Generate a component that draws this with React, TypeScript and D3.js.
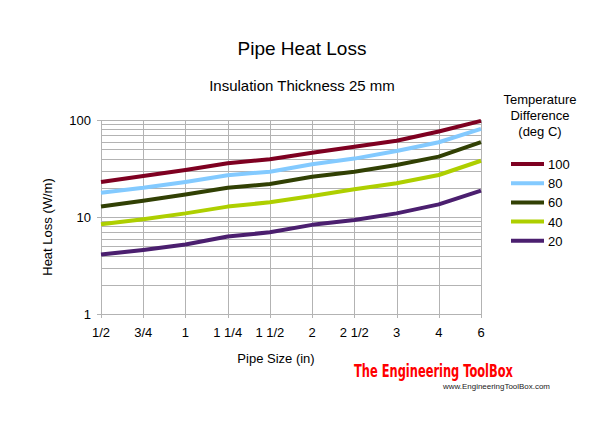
import React, { useEffect, useRef } from 'react';
import * as d3 from 'd3';

const sizes = ['1/2', '3/4', '1', '1 1/4', '1 1/2', '2', '2 1/2', '3', '4', '6'];
const temps = ['100', '80', '60', '40', '20'];
const loss100 = [23, 26.5, 30.5, 35.8, 39.4, 46, 53, 61, 76, 98];
const loss80 = [17.8, 20, 23, 27, 29.3, 35, 40, 48, 59, 81];
const loss60 = [12.8, 14.7, 17.1, 20, 21.9, 26, 29.3, 34.4, 41.9, 59];
const loss40 = [8.4, 9.5, 10.9, 12.8, 14.2, 16.5, 19.3, 22.3, 27.1, 38];
const loss20 = [4.1, 4.57, 5.2, 6.3, 6.95, 8.3, 9.3, 10.9, 13.5, 18.7];
const yTicks = [1, 10, 100];
const colors = ['#7e0021', '#83caff', '#314004', '#aecf00', '#4b1f6f'];

const App = () => {
  const svgRef = useRef<SVGSVGElement>(null);

  useEffect(() => {
    const svg = d3.select(svgRef.current);
    svg.selectAll('*').remove();
    const font = '"Liberation Sans", Arial, sans-serif';

    const left = 101, right = 481, top = 120, bottom = 314;
    const x = d3.scalePoint<string>().domain(sizes).range([left, right]);
    const y = d3.scaleLog().domain([1, 100]).range([bottom, top]);

    const series = [loss100, loss80, loss60, loss40, loss20];

    // grid
    const minor: number[] = [];
    for (const d of [1, 10]) for (let k = 2; k <= 9; k++) minor.push(d * k);
    const grid = svg.append('g').attr('stroke', '#b3b3b3').attr('stroke-width', 1);
    grid.selectAll('line.h')
      .data([...minor, ...yTicks])
      .enter().append('line')
      .attr('x1', left).attr('x2', right)
      .attr('y1', d => Math.round(y(d)) + 0.5).attr('y2', d => Math.round(y(d)) + 0.5);
    grid.selectAll('line.v')
      .data(sizes)
      .enter().append('line')
      .attr('x1', d => Math.round(x(d)!) + 0.5).attr('x2', d => Math.round(x(d)!) + 0.5)
      .attr('y1', top).attr('y2', bottom + 4);
    grid.selectAll('line.yt')
      .data(yTicks)
      .enter().append('line')
      .attr('x1', left - 4).attr('x2', left)
      .attr('y1', d => Math.round(y(d)) + 0.5).attr('y2', d => Math.round(y(d)) + 0.5);

    // axis labels
    svg.append('g').selectAll('text')
      .data(yTicks).enter().append('text')
      .attr('x', left - 10).attr('y', d => y(d) + 5)
      .attr('text-anchor', 'end')
      .style('font-family', font).style('font-size', '13px')
      .text(d => String(d));
    svg.append('g').selectAll('text')
      .data(sizes).enter().append('text')
      .attr('x', d => x(d)!).attr('y', 337)
      .attr('text-anchor', 'middle')
      .style('font-family', font).style('font-size', '13px')
      .text(d => d);

    const line = d3.line<number>()
      .x((_, i) => x(sizes[i])!)
      .y(d => y(d));

    svg.append('g').selectAll('path')
      .data(series).enter().append('path')
      .attr('d', d => line(d))
      .attr('fill', 'none')
      .attr('stroke', (_, i) => colors[i])
      .attr('stroke-width', 4)
      .attr('stroke-linejoin', 'round');

    // titles
    svg.append('text').attr('x', 302).attr('y', 55).attr('text-anchor', 'middle')
      .style('font-family', font).style('font-size', '19px').text('Pipe Heat Loss');
    svg.append('text').attr('x', 302).attr('y', 91).attr('text-anchor', 'middle')
      .style('font-family', font).style('font-size', '15px').text('Insulation Thickness 25 mm');
    svg.append('text').attr('x', 276).attr('y', 363).attr('text-anchor', 'middle')
      .style('font-family', font).style('font-size', '13px').text('Pipe Size (in)');
    svg.append('text')
      .attr('transform', 'translate(52,227) rotate(-90)')
      .attr('text-anchor', 'middle')
      .style('font-family', font).style('font-size', '13px').text('Heat Loss (W/m)');

    // legend
    const lg = svg.append('g');
    ['Temperature', 'Difference', '(deg C)'].forEach((t, i) => {
      lg.append('text').attr('x', 540).attr('y', 104 + i * 16).attr('text-anchor', 'middle')
        .style('font-family', font).style('font-size', '13px').text(t);
    });
    temps.forEach((t, i) => {
      const ly = 164 + i * 19.2;
      lg.append('line').attr('x1', 511).attr('x2', 544).attr('y1', ly).attr('y2', ly)
        .attr('stroke', colors[i]).attr('stroke-width', 4);
      lg.append('text').attr('x', 548).attr('y', ly + 5)
        .style('font-family', font).style('font-size', '13px').text(t);
    });

    // watermark
    svg.append('text').attr('x', 354).attr('y', 377)
      .style('font-family', '"DejaVu Sans Condensed", "Liberation Sans", sans-serif')
      .style('font-weight', 'bold').style('font-size', '18px').attr('fill', '#ff0000')
      .attr('textLength', 159).attr('lengthAdjust', 'spacingAndGlyphs')
      .text('The Engineering ToolBox');
    svg.append('text').attr('x', 443).attr('y', 389)
      .style('font-family', font).style('font-size', '8px').attr('fill', '#222')
      .attr('textLength', 107).attr('lengthAdjust', 'spacingAndGlyphs')
      .text('www.EngineeringToolBox.com');
  }, []);

  return (
    <svg ref={svgRef} width={600} height={426}
      style={{ position: 'absolute', left: 0, top: 0, background: '#fff' }} />
  );
};

export default App;
